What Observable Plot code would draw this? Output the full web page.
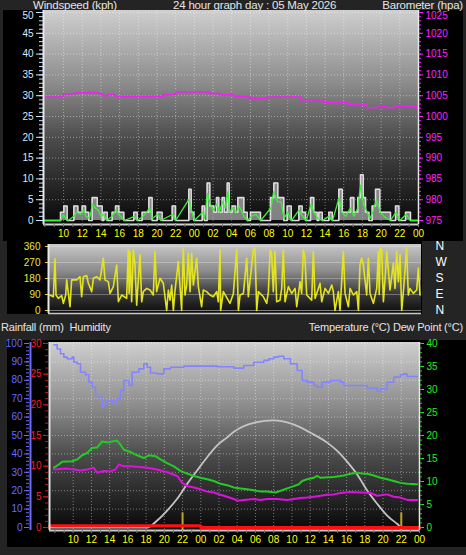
<!DOCTYPE html>
<html><head><meta charset="utf-8">
<script src="https://cdn.jsdelivr.net/npm/d3@7"></script>
<script src="https://cdn.jsdelivr.net/npm/@observablehq/plot@0.6"></script>
<style>
html,body{margin:0;padding:0;background:#242424;}
#root{position:relative;width:466px;height:555px;background:#242424;overflow:hidden;font-family:"Liberation Sans",Arial,sans-serif;}
.lbl{position:absolute;color:#e4e4e4;font-size:11.5px;line-height:10px;white-space:pre;letter-spacing:-0.2px;}
</style></head><body><div id="root"></div>
<script>
// ---------- data ----------
const tickHours = [10,12,14,16,18,20,22,24,26,28,30,32,34,36,38,40,42,44,46,48];
const tickLabels = ["10","12","14","16","18","20","22","00","02","04","06","08","10","12","14","16","18","20","22","00"];
const windTicks = [0,5,10,15,20,25,30,35,40,45,50];
const baroTicks = [975,980,985,990,995,1000,1005,1010,1015,1020,1025];
const dirTicks = [0,90,180,270,360];
const compassLabels = ["N","E","S","W","N"];
const humTicks = [0,10,20,30,40,50,60,70,80,90,100];
const rainTicks = [0,5,10,15,20,25,30];
const tempTicks = [0,5,10,15,20,25,30,35,40];

// barometer (hPa)
const baro = [[7.9,1004.7],[9.7,1004.8],[10.0,1005.4],[10.9,1005.5],[11.3,1005.7],[13.6,1005.6],[14.0,1005.3],[14.3,1005.0],[14.7,1005.3],[15.4,1005.0],[15.7,1004.8],[20.4,1004.8],[20.7,1005.2],[21.6,1005.3],[22.0,1005.9],[25.2,1005.8],[25.7,1005.5],[26.8,1005.2],[28.2,1004.9],[29.7,1004.6],[30.0,1004.3],[31.4,1004.3],[31.8,1004.7],[34.6,1004.7],[35.4,1004.0],[37.5,1004.0],[37.9,1003.4],[40.0,1003.3],[40.5,1002.9],[42.0,1002.8],[42.5,1002.1],[43.6,1002.4],[44.6,1002.1],[45.4,1002.5],[47.1,1002.4],[47.85,1001.9]];

// wind gust (kph)
const gust = [[7.88,0],[9.67,2],[10.03,3.5],[10.38,0],[11.1,3.5],[11.53,2],[11.99,3.5],[12.35,2],[12.7,0],[13.06,5.5],[13.6,3.5],[14.13,0],[14.31,2],[14.67,0],[15.2,2],[15.56,3.5],[15.92,2],[16.45,0],[17.52,2],[17.88,0],[18.41,2],[19.13,5.5],[19.48,0],[20.02,2],[20.55,0],[21.63,3.5],[21.98,0],[23.41,7.5],[23.66,2],[23.95,0],[24.84,3.5],[25.09,0],[25.37,9],[25.66,3.5],[26.09,2],[26.37,5.5],[26.62,2],[26.98,5.5],[27.23,2],[27.52,9],[27.73,2],[28.05,3.5],[28.41,2],[28.66,5.5],[29.3,2],[29.66,0],[30.01,2],[31.08,0],[32.15,5.5],[32.51,9],[32.94,5.5],[33.58,0],[33.94,3.5],[34.37,0],[35.19,3.5],[35.54,2],[35.9,0],[36.44,5.5],[36.79,2],[37.15,0],[37.33,2],[37.69,0],[38.4,2],[38.76,0],[39.47,7.5],[39.83,2],[40.72,5.5],[41.08,2],[41.5,5.5],[41.79,11],[42.08,5.5],[42.33,2],[42.69,0],[43.04,3.5],[43.4,7.5],[43.86,2],[45.0,0],[45.54,3.5],[45.9,0],[46.61,2],[47.14,0],[48,0]];

// average wind speed (kph)
const speed = [[7.88,0],[9.7,0],[10.0,1.5],[10.2,0.5],[10.5,0],[11.1,1],[11.4,2],[11.8,1.5],[12.1,2.5],[12.4,1],[12.8,0.5],[13.1,4],[13.4,3],[13.7,2.5],[14.0,1],[14.3,1.5],[14.6,0],[15.2,1],[15.6,2.5],[15.9,1.5],[16.3,0.5],[16.5,0],[17.6,1],[17.9,0],[18.5,1],[18.9,2],[19.2,3],[19.5,0.5],[20.1,1.5],[20.4,0],[21.7,1.5],[22.0,0],[23.4,5],[23.7,2.5],[24.0,0],[24.9,2],[25.1,0.5],[25.4,6.5],[25.7,4],[26.0,2.5],[26.4,4],[26.7,2],[27.0,4.5],[27.3,3],[27.6,7],[27.8,2],[28.1,3],[28.5,2],[28.8,3.5],[29.3,1],[29.7,0],[30.1,1],[30.6,1.5],[31.1,0],[32.2,3],[32.5,7],[32.9,4.5],[33.3,4.5],[33.6,0.5],[34.0,2],[34.4,0],[35.2,2.5],[35.6,1],[36.0,0],[36.5,4],[36.8,2],[37.2,0.5],[37.7,0],[38.4,1],[38.8,0],[39.5,5.5],[39.8,2],[40.2,1],[40.7,3],[41.1,1],[41.5,3],[41.8,8.5],[42.1,4],[42.4,2.5],[42.8,0.5],[43.1,2],[43.5,5],[43.9,2],[44.3,1],[45.0,0],[45.6,2],[46.0,0],[46.7,1.5],[47.1,0],[47.86,0]];

// wind direction (degrees)
const direction = [[8.01,87],[8.37,77],[8.55,290],[8.66,87],[8.91,68],[9.27,83],[9.45,40],[9.7,87],[9.81,172],[10.16,21],[10.34,172],[10.88,172],[11.24,190],[11.42,77],[11.6,190],[11.96,196],[12.14,153],[12.5,106],[12.68,181],[13.03,190],[13.39,172],[13.75,294],[13.93,172],[14.29,162],[14.47,96],[14.83,134],[15.19,256],[15.37,49],[15.73,87],[16.26,68],[16.44,341],[16.53,96],[16.62,332],[16.8,49],[16.98,341],[17.16,256],[17.34,30],[17.7,313],[17.88,49],[18.06,106],[18.42,124],[18.78,115],[19.13,87],[19.31,332],[19.49,106],[19.85,181],[20.21,153],[20.57,0],[20.75,115],[20.93,58],[21.11,143],[21.29,0],[21.46,106],[21.82,275],[22.0,143],[22.18,0],[22.36,351],[22.54,87],[22.72,143],[22.9,322],[23.08,106],[23.26,322],[23.44,143],[23.8,294],[23.98,134],[24.33,21],[24.51,115],[24.87,106],[25.23,87],[25.59,77],[25.95,106],[26.13,49],[26.31,341],[26.38,0],[26.67,106],[27.39,40],[27.75,96],[28.11,341],[28.29,0],[28.47,87],[28.83,96],[29.19,294],[29.36,77],[29.9,341],[30.08,351],[30.26,0],[30.44,106],[30.98,77],[31.34,40],[31.52,106],[31.7,341],[31.87,322],[32.05,106],[32.23,332],[32.41,49],[32.77,58],[32.95,124],[33.13,341],[33.31,49],[33.67,134],[34.03,96],[34.39,124],[34.57,21],[34.93,162],[35.1,96],[35.28,341],[35.46,294],[35.64,87],[36.18,58],[36.36,332],[36.54,68],[36.72,96],[37.08,153],[37.26,49],[37.62,124],[37.98,96],[38.34,143],[38.51,106],[38.69,0],[39.05,106],[39.23,0],[39.59,332],[39.77,96],[40.13,21],[40.31,124],[40.67,87],[41.03,106],[41.21,0],[41.38,256],[41.56,294],[41.74,256],[42.1,87],[42.28,294],[42.46,96],[42.82,40],[43.18,124],[43.36,332],[43.45,90],[43.54,351],[43.72,341],[43.9,49],[44.08,181],[44.26,332],[44.61,115],[44.97,266],[45.15,124],[45.33,332],[45.51,162],[45.69,313],[45.87,0],[46.05,106],[46.4,351],[46.58,87],[46.76,124],[47.12,96],[47.48,115],[47.66,238],[47.84,87]];

// humidity (%)
const humidity = [[7.88,99.3],[8.24,97],[8.61,94.4],[8.97,92.6],[9.34,91.7],[9.89,92.6],[10.07,89.8],[10.44,89],[10.8,84.4],[11.35,83],[11.72,79],[12.08,76.2],[12.45,71.7],[12.81,70.8],[13.18,65.4],[13.36,67.2],[13.73,69],[14.28,68],[14.64,67.2],[14.82,70],[15.19,74.5],[15.56,79.9],[16.11,77.2],[16.47,84.4],[17.2,86.2],[17.75,89],[18.12,87.1],[18.48,84],[19.21,83.5],[19.95,86.2],[20.68,87.1],[22.14,87.7],[23.97,87.7],[25.8,87.4],[27.63,86.6],[28.72,88],[29.82,89.8],[30.92,90.8],[31.47,91.7],[32.02,92.6],[32.56,93.1],[33.11,91.7],[33.84,89],[34.58,85.3],[35.12,79.9],[35.67,79],[36.4,77.2],[36.77,76.2],[37.32,79],[37.87,79],[38.23,79.9],[39.33,79],[39.7,77.2],[41.53,77.2],[42.26,75.7],[43.35,73.9],[43.72,75.4],[44.45,79],[45.18,81.7],[45.9,83],[46.28,83.5],[46.64,82.1],[47.74,81.7]];

// temperature (°C)
const temperature = [[7.88,13.0],[8.42,13.7],[8.79,14.3],[9.89,14.4],[10.44,14.8],[10.98,15.7],[11.53,16.2],[12.08,17.3],[12.63,17.4],[13.0,18.3],[13.18,18.7],[13.73,18.5],[14.28,18.7],[14.82,18.9],[15.19,18.0],[15.56,16.9],[16.29,16.4],[17.02,15.7],[17.75,15.1],[18.3,15.7],[19.03,15.5],[19.58,14.8],[20.31,14.0],[21.04,13.3],[21.77,12.3],[22.51,11.7],[23.24,11.2],[23.97,10.8],[24.7,10.5],[25.43,10.1],[26.16,9.5],[26.9,9.2],[27.63,8.7],[28.36,8.5],[29.09,8.3],[29.82,8.1],[30.55,7.8],[31.28,7.8],[32.2,7.6],[32.93,8.1],[33.48,8.5],[34.21,9.0],[34.76,9.4],[35.12,10.1],[35.67,10.5],[36.4,10.8],[36.77,11.2],[37.14,10.8],[38.6,11.0],[39.7,11.3],[40.43,11.7],[41.16,11.9],[41.89,11.7],[42.26,11.7],[42.99,11.3],[43.72,10.8],[44.45,10.5],[45.18,10.1],[45.9,9.7],[46.64,9.5],[47.74,9.4]];

// dew point (°C)
const dewPoint = [[7.88,12.6],[9.34,12.8],[10.07,12.6],[10.8,12.4],[11.53,12.6],[12.26,13.0],[12.63,11.9],[13.36,12.3],[14.09,12.2],[14.64,12.6],[15.01,13.7],[15.56,13.3],[16.29,13.3],[17.02,13.2],[18.12,13.0],[19.21,12.6],[20.31,12.0],[21.41,11.2],[21.96,9.7],[22.51,9.0],[23.24,8.7],[23.97,8.3],[24.7,7.8],[25.43,7.6],[26.16,7.1],[26.9,6.7],[27.63,6.2],[27.99,5.8],[28.72,6.0],[29.82,6.2],[30.55,6.0],[31.28,6.2],[32.38,6.2],[33.48,6.0],[34.21,6.2],[34.94,6.4],[35.67,6.5],[36.4,6.7],[37.14,6.9],[37.87,7.1],[38.6,7.2],[39.33,7.5],[40.43,7.7],[41.53,7.6],[42.62,7.5],[43.35,6.9],[44.45,7.2],[45.18,6.7],[45.9,6.5],[46.64,6.0],[47.74,6.0]];

// solar curve (% of humidity scale)
const solar = [[7.4,0],[18.12,0],[19.21,3.8],[20.31,9.2],[21.41,15.6],[22.51,23.7],[23.6,31],[24.7,38.2],[25.8,44.6],[26.9,49],[27.63,52],[29.82,56.9],[32.02,58.2],[34.17,56],[36.04,51.5],[37.91,46],[39.0,41.5],[40.1,35.5],[41.2,28.5],[42.26,20.1],[43.35,12.9],[44.45,6.5],[45.55,2.0],[46.1,0],[48,0]];

// rainfall (mm)
const rainfall = [[7.4,0.3],[24,0.3],[24,0],[48,0]];
const rainMarkHours = [22,46];
const rainMarkValues = [2.4,2.4];

// ---------- helpers ----------
const root = document.getElementById("root");
function place(el, left, top, z) {
  el.style.position = "absolute"; el.style.left = left + "px"; el.style.top = top + "px";
  if (z != null) el.style.zIndex = z;
  root.appendChild(el);
}
function label(text, left, top, align, size) {
  const d = document.createElement("div"); d.className = "lbl"; d.textContent = text;
  d.style.zIndex = 3;
  if (size) { d.style.fontSize = size + "px"; d.style.lineHeight = "13px"; }
  if (align === "right") { d.style.right = left + "px"; d.style.top = top + "px"; root.appendChild(d); }
  else place(d, left, top, 3);
}
function gradBg(id, stops) {
  return (index, scales, values, dim) => {
    const g = d3.create("svg:g");
    const lg = g.append("defs").append("linearGradient").attr("id", id)
      .attr("x1", 0).attr("y1", 0).attr("x2", 0).attr("y2", 1);
    for (const [o, c] of stops) lg.append("stop").attr("offset", o).attr("stop-color", c);
    g.append("rect").attr("x", dim.marginLeft).attr("y", dim.marginTop)
      .attr("width", dim.width - dim.marginLeft - dim.marginRight)
      .attr("height", dim.height - dim.marginTop - dim.marginBottom)
      .attr("fill", `url(#${id})`);
    return g.node();
  };
}
const gradStops = [[0, "#cfcfcf"], [0.35, "#8a8a8a"], [0.6, "#4c4c4c"], [1, "#080808"]];
const hx = d => d[0], hy = d => d[1];
const fmtHour = d => tickLabels[tickHours.indexOf(d)];
const hourMinor = d3.range(8, 49);
const font = "'Liberation Sans', Arial, sans-serif";
const gridStyle = {stroke: "#ffffff", strokeOpacity: 0.42, strokeDasharray: "1,2"};

// titles
label("Windspeed (kph)", 33, 0);
label("24 hour graph day : 05 May 2026", 173, 0);
label("Barometer (hpa)", 3, 0, "right");
label("Rainfall (mm)  Humidity", 1, 321, null, 11);
label("Temperature (°C) Dew Point (°C)", 3, 321, "right", 11);

// ---------- panel 1: wind + barometer ----------
const xDom1 = [7.85, 48];
const yDom1 = [-0.96, 50.48];
const windTop = windTicks.slice(-1), windRest = windTicks.slice(0, -1);
const baroTop = baroTicks.slice(-1), baroRest = baroTicks.slice(0, -1);
const p1 = Plot.plot({
  width: 460, height: 231, marginLeft: 40, marginRight: 45, marginTop: 0, marginBottom: 17,
  style: {background: "#000", overflow: "hidden", fontFamily: font, fontSize: "10px"},
  x: {domain: xDom1, axis: null},
  y: {domain: yDom1, axis: null},
  marks: [
    gradBg("g1", gradStops),
    Plot.gridX(tickHours.slice(0, 19), gridStyle),
    Plot.gridY(windTicks.slice(1), gridStyle),
    Plot.areaY(gust, {x: hx, y: hy, curve: "step-after", fill: "#b4b4b4", fillOpacity: 0.7}),
    Plot.line(gust, {x: hx, y: hy, curve: "step-after", stroke: "#dcdcdc", strokeWidth: 1.6}),
    Plot.line(speed, {x: hx, y: hy, stroke: "#3cf03c", strokeWidth: 1.3}),
    Plot.line(baro, {x: hx, y: d => d[1] - 975, curve: "step-after", stroke: "#ee22ee", strokeWidth: 1.6}),
    Plot.ruleX([xDom1[0]], {stroke: "#e8e8e8", strokeWidth: 2}),
    Plot.ruleX([xDom1[1]], {stroke: "#e8e8e8", strokeWidth: 1.5}),
    Plot.ruleY([yDom1[0]], {stroke: "#d0d0d0", strokeWidth: 2}),
    Plot.axisX(tickHours, {tickSize: 0, tickPadding: 5, tickFormat: fmtHour, color: "#ffff00", label: null, fontSize: 10}),
    Plot.axisX(hourMinor, {tickSize: 3, text: null, stroke: "#777", label: null}),
    // wind axis (left)
    Plot.axisY(windTicks, {anchor: "left", tickSize: 7, text: null, stroke: "#d6eaff", label: null}),
    Plot.axisY(windRest, {anchor: "left", tickSize: 0, tickPadding: 10, color: "#d6eaff", label: null, fontSize: 10}),
    Plot.axisY(windTop, {anchor: "left", tickSize: 0, tickPadding: 10, dy: 3, color: "#d6eaff", label: null, fontSize: 10}),
    Plot.axisY(d3.range(0, 51), {anchor: "left", tickSize: 4, text: null, stroke: "#cfe2ff", label: null}),
    // barometer axis (right)
    Plot.axisY(baroTicks.map(v => v - 975), {anchor: "right", tickSize: 4, text: null, stroke: "#ff22ff", label: null}),
    Plot.axisY(baroRest.map(v => v - 975), {anchor: "right", tickSize: 0, tickPadding: 7, tickFormat: d => String(d + 975), color: "#ff22ff", label: null, fontSize: 10}),
    Plot.axisY(baroTop.map(v => v - 975), {anchor: "right", tickSize: 0, tickPadding: 7, dy: 3, tickFormat: d => String(d + 975), color: "#ff22ff", label: null, fontSize: 10}),
    Plot.axisY(d3.range(0, 51), {anchor: "right", tickSize: 2, text: null, stroke: "#ff22ff", label: null})
  ]
});
place(p1, 3, 10, 2);

// ---------- panel 2: wind direction ----------
const xDom2 = [7.85, 48];
const yDom2 = [-17, 371];
const box2 = document.createElement("div");
box2.style.width = "415px"; box2.style.height = "73px"; box2.style.background = "#000";
place(box2, 7, 241, 1);
const p2 = Plot.plot({
  width: 459, height: 73, marginLeft: 41, marginRight: 45, marginTop: 3, marginBottom: 1,
  style: {background: "transparent", overflow: "visible", fontFamily: font, fontSize: "10px"},
  x: {domain: xDom2, axis: null},
  y: {domain: yDom2, axis: null},
  marks: [
    gradBg("g2", [[0, "#c8c8c8"], [0.4, "#8a8a8a"], [0.7, "#3c3c3c"], [1, "#0c0c0c"]]),
    Plot.gridY([90, 180, 270, 360], {stroke: "#ffffff", strokeOpacity: 0.3}),
    Plot.ruleY([0], {stroke: "#cccccc", strokeOpacity: 0.6}),
    Plot.line(direction, {x: hx, y: hy, stroke: "#e4e41e", strokeWidth: 1.6}),
    Plot.ruleX([xDom2[0]], {stroke: "#e8e8e8", strokeWidth: 2}),
    Plot.ruleY([yDom2[0]], {stroke: "#c8c8c8", strokeWidth: 1.5}),
    Plot.axisY(dirTicks, {anchor: "left", tickSize: 3, tickPadding: 5, color: "#e6e63a", label: null, fontSize: 10}),
    Plot.axisY(dirTicks, {anchor: "right", tickSize: 0, tickPadding: 14, tickFormat: d => compassLabels[dirTicks.indexOf(d)], color: "#ffffff", label: null, fontSize: 12, textAnchor: "start"})
  ]
});
place(p2, 7, 241, 2);

// ---------- panel 3: rain, humidity, temperature, dew point ----------
const xDom3 = [7.4, 48];
const yDom3 = [-1.63, 100.54];
const rainK = 100 / 30, tempK = 100 / 40;
const p3 = Plot.plot({
  width: 459, height: 207, marginLeft: 42, marginRight: 47, marginTop: 2, marginBottom: 17,
  style: {background: "#000", overflow: "visible", fontFamily: font, fontSize: "10px"},
  x: {domain: xDom3, axis: null},
  y: {domain: yDom3, axis: null},
  marks: [
    gradBg("g3", gradStops),
    Plot.gridX(tickHours.slice(0, 19), gridStyle),
    Plot.gridY(humTicks.slice(1), gridStyle),
    Plot.line(solar, {x: hx, y: hy, curve: "monotone-x", stroke: "#c4c4c4", strokeWidth: 1.8}),
    Plot.ruleX(rainMarkHours.map((h, i) => [h, rainMarkValues[i]]), {x: hx, y1: yDom3[0], y2: d => d[1] * rainK, stroke: "#b8a626", strokeWidth: 2}),
    Plot.line(rainfall, {x: hx, y: d => d[1] * rainK, stroke: "#ff1010", strokeWidth: 3}),
    Plot.line(temperature, {x: hx, y: d => d[1] * tempK, stroke: "#22cc22", strokeWidth: 2}),
    Plot.line(dewPoint, {x: hx, y: d => d[1] * tempK, stroke: "#dd11dd", strokeWidth: 2}),
    Plot.line(humidity, {x: hx, y: hy, curve: "step-after", stroke: "#8484ff", strokeWidth: 1.6}),
    Plot.ruleX([xDom3[0]], {stroke: "#e0e0e0", strokeWidth: 2}),
    Plot.ruleX([xDom3[1]], {stroke: "#e8e8e8", strokeWidth: 1.5}),
    Plot.ruleY([yDom3[0]], {stroke: "#c8c8c8", strokeWidth: 2}),
    Plot.axisX(tickHours, {tickSize: 0, tickPadding: 5, tickFormat: fmtHour, color: "#ffff00", label: null, fontSize: 10}),
    Plot.axisX(hourMinor, {tickSize: 3, text: null, stroke: "#777", label: null}),
    // humidity axis (blue, outer)
    Plot.ruleX([xDom3[0]], {dx: -19, stroke: "#6a6aff", strokeWidth: 2}),
    Plot.axisY(humTicks, {anchor: "left", dx: -20, tickSize: 5, tickPadding: 2, color: "#6a6aff", label: null, fontSize: 10}),
    Plot.axisY(d3.range(0, 101, 2), {anchor: "left", dx: -20, tickSize: 3, text: null, stroke: "#6a6aff", label: null}),
    // rainfall axis (red, inner)
    Plot.axisY(rainTicks.map(v => v * rainK), {anchor: "left", dx: -1, tickSize: 5, tickPadding: 2, tickFormat: d => String(Math.round(d / rainK)), color: "#ff1a1a", label: null, fontSize: 10}),
    Plot.axisY(d3.range(0, 31).map(v => v * rainK), {anchor: "left", dx: -1, tickSize: 3, text: null, stroke: "#cc1010", label: null}),
    // temperature axis (green, right)
    Plot.axisY(tempTicks.map(v => v * tempK), {anchor: "right", tickSize: 4, tickPadding: 3, tickFormat: d => String(Math.round(d / tempK)), color: "#22ee22", label: null, fontSize: 10}),
    Plot.axisY(d3.range(0, 41).map(v => v * tempK), {anchor: "right", tickSize: 2, text: null, stroke: "#22cc22", label: null})
  ]
});
place(p3, 7, 340, 2);
</script></body></html>
